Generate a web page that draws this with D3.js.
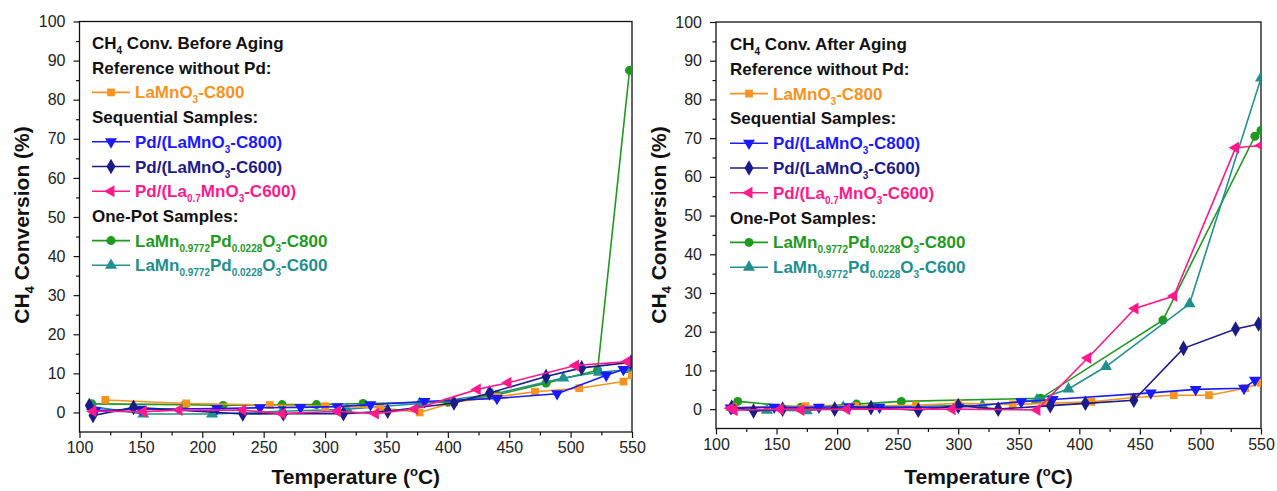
<!DOCTYPE html>
<html>
<head>
<meta charset="utf-8">
<script src="https://cdn.jsdelivr.net/npm/d3@7"></script>
<style>
  html, body { margin: 0; padding: 0; background: #ffffff; }
  svg { display: block; }
  text { font-family: Arial, "Liberation Sans", sans-serif; }
</style>
</head>
<body>
<svg id="chart" width="1277" height="491"></svg>
<script>
// ---------------- DATA ----------------
const xTickValues = [100, 150, 200, 250, 300, 350, 400, 450, 500, 550];
const yTickValues = [0, 10, 20, 30, 40, 50, 60, 70, 80, 90, 100];
const seriesNames = ["LaMnO3-C800", "Pd/(LaMnO3-C800)", "Pd/(LaMnO3-C600)", "Pd/(La0.7MnO3-C600)",
                     "LaMn0.9772Pd0.0228O3-C800", "LaMn0.9772Pd0.0228O3-C600"];
const panelTitles = ["Conv. Before Aging", "Conv. After Aging"];
const groupHeaders = ["Reference without Pd:", "Sequential Samples:", "One-Pot Samples:"];

// Before aging  [temperature °C, conversion %]
const before_LaMnO3_C800 = [[121,3.2],[187,2.3],[255,1.9],[300,1.6],[345,1.2],[377,0],[405,2.6],[440,4.0],[471,5.3],[507,6.2],[543,7.9],[550,9.5]];
const before_Pd_LaMnO3_C800 = [[113,0.5],[150,0.8],[212,1.0],[247,1.2],[280,1.3],[310,1.5],[337,2.0],[381,2.8],[440,3.6],[489,4.8],[529,9.5],[543,11]];
const before_Pd_LaMnO3_C600 = [[108,1.8],[111,-0.8],[144,1.3],[233,-0.4],[266,-0.3],[315,-0.3],[351,0.3],[405,2.4],[434,5.0],[480,9.2],[509,11.4],[549,12.8]];
const before_Pd_La07MnO3_C600 = [[111,0.3],[152,0.2],[181,0.6],[233,0.6],[265,-0.3],[310,0.3],[341,-0.3],[373,0.9],[424,5.9],[449,7.6],[504,12.0],[546,13.0]];
const before_OnePot_C800 = [[110,2.2],[186,2.0],[217,1.8],[265,2.0],[293,2.0],[331,2.3],[400,2.6],[440,4.5],[480,7.5],[522,10.8],[548,87.5]];
const before_OnePot_C600 = [[110,1.5],[152,-0.4],[208,-0.4],[265,0.3],[318,0.8],[377,2.3],[436,4.6],[494,8.8],[523,10.3],[548,11.0]];

// After aging  [temperature °C, conversion %]
const after_LaMnO3_C800 = [[114,0.5],[174,0.8],[215,0.8],[265,1.0],[300,1.5],[345,1.2],[372,1.5],[410,1.9],[445,3.0],[478,3.6],[507,3.6],[537,5.4],[550,6.8]];
const after_Pd_LaMnO3_C800 = [[112,0.3],[148,0.5],[185,0.5],[210,0.6],[235,0.5],[300,0.5],[352,1.9],[378,2.5],[459,4.2],[496,5.1],[536,5.4],[545,7.5]];
const after_Pd_LaMnO3_C600 = [[113,0.5],[131,-0.5],[155,0],[198,0],[228,0.4],[267,-0.3],[300,0.9],[333,0],[376,0.9],[405,1.5],[445,2.3],[486,15.7],[529,20.7],[548,22.0]];
const after_Pd_La07MnO3_C600 = [[112,0.2],[115,-0.3],[153,0],[170,-0.2],[208,0],[295,0],[365,-0.2],[407,13.2],[446,26.0],[478,29.2],[529,67.5],[550,68.1]];
const after_OnePot_C800 = [[118,2.0],[170,0.5],[216,1.3],[253,2.0],[368,2.8],[469,23.0],[545,70.5],[550,72.0]];
const after_OnePot_C600 = [[113,0.5],[142,-0.3],[175,-0.4],[205,0.5],[320,1.0],[365,2.4],[391,5.2],[422,11.0],[491,27.2],[550,85.5]];

// ---------------- STYLE ----------------
const colors = ["#f7931e", "#1a1aff", "#1b1b8a", "#ff1a8c", "#1f9a1f", "#1f8f8f"];
const rot = [0, 180, 0, -90, 0, 0];
const symbols = [d3.symbolSquare, d3.symbolTriangle, d3.symbolDiamond, d3.symbolTriangle, d3.symbolCircle, d3.symbolTriangle];
const symSizes = [60, 62, 70, 62, 64, 62];
const drawOrder = [4, 5, 0, 1, 2, 3];

const legendLabels = [
  [["LaMnO"],["3","sub"],["-C800"]],
  [["Pd/(LaMnO"],["3","sub"],["-C800)"]],
  [["Pd/(LaMnO"],["3","sub"],["-C600)"]],
  [["Pd/(La"],["0.7","sub"],["MnO"],["3","sub"],["-C600)"]],
  [["LaMn"],["0.9772","sub"],["Pd"],["0.0228","sub"],["O"],["3","sub"],["-C800"]],
  [["LaMn"],["0.9772","sub"],["Pd"],["0.0228","sub"],["O"],["3","sub"],["-C600"]]
];

const panels = [
  { x0: 79.5, x1: 632, yTop: 21.5, yBot: 432, legX: 92, legY0: 43, legDy: 24.7, yTitleX: 28.5,
    title: panelTitles[0],
    series: [before_LaMnO3_C800, before_Pd_LaMnO3_C800, before_Pd_LaMnO3_C600, before_Pd_La07MnO3_C600, before_OnePot_C800, before_OnePot_C600] },
  { x0: 716, x1: 1261, yTop: 22, yBot: 428.5, legX: 730, legY0: 44, legDy: 24.8, yTitleX: 666,
    title: panelTitles[1],
    series: [after_LaMnO3_C800, after_Pd_LaMnO3_C800, after_Pd_LaMnO3_C600, after_Pd_La07MnO3_C600, after_OnePot_C800, after_OnePot_C600] }
];

const svg = d3.select("#chart");
svg.append("rect").attr("width", 1277).attr("height", 491).attr("fill", "#ffffff");

function addRich(textSel, parts, baseSize, subSize) {
  let shifted = false;
  parts.forEach(p => {
    const ts = textSel.append("tspan").text(p[0]);
    if (p[1] === "sub") {
      ts.attr("font-size", subSize).attr("dy", shifted ? 0 : 5);
      shifted = true;
    } else {
      ts.attr("font-size", baseSize);
      if (shifted) { ts.attr("dy", -5); shifted = false; }
    }
  });
}

panels.forEach((P, pi) => {
  const x = d3.scaleLinear().domain([100, 550]).range([P.x0, P.x1]);
  const y = d3.scaleLinear().domain([-5, 100]).range([P.yBot, P.yTop]);
  const g = svg.append("g");

  // clip
  const clipId = "clip" + pi;
  svg.append("clipPath").attr("id", clipId).append("rect")
    .attr("x", P.x0).attr("y", P.yTop).attr("width", P.x1 - P.x0).attr("height", P.yBot - P.yTop);

  // X axis majors
  const xAx = g.append("g").attr("transform", `translate(0,${P.yBot})`)
    .call(d3.axisBottom(x).tickValues(xTickValues).tickSize(6).tickSizeOuter(0).tickPadding(4).tickFormat(d3.format("d")));
  // X minors
  const xMin = g.append("g").attr("transform", `translate(0,${P.yBot})`)
    .call(d3.axisBottom(x).tickValues(d3.range(125, 550, 50)).tickSize(3.5).tickSizeOuter(0).tickFormat(""));
  // Y axis majors
  const yAx = g.append("g").attr("transform", `translate(${P.x0},0)`)
    .call(d3.axisLeft(y).tickValues(yTickValues).tickSize(6).tickSizeOuter(0).tickPadding(8).tickFormat(d3.format("d")));
  const yMin = g.append("g").attr("transform", `translate(${P.x0},0)`)
    .call(d3.axisLeft(y).tickValues(d3.range(5, 100, 10)).tickSize(3.5).tickSizeOuter(0).tickFormat(""));

  [xAx, xMin, yAx, yMin].forEach(a => {
    a.select(".domain").remove();
    a.selectAll(".tick line").attr("stroke", "#111").attr("stroke-width", 1.2);
    a.selectAll(".tick text").attr("fill", "#222").attr("font-size", 16)
      .attr("font-family", "Arial, 'Liberation Sans', sans-serif");
  });

  // frame
  g.append("rect").attr("x", P.x0).attr("y", P.yTop)
    .attr("width", P.x1 - P.x0).attr("height", P.yBot - P.yTop)
    .attr("fill", "none").attr("stroke", "#111").attr("stroke-width", 1.3);

  // series
  const line = d3.line().x(d => x(d[0])).y(d => y(d[1]));
  const dataG = g.append("g").attr("clip-path", `url(#${clipId})`);
  drawOrder.forEach(si => {
    const data = P.series[si];
    dataG.append("path").datum(data).attr("d", line)
      .attr("fill", "none").attr("stroke", colors[si]).attr("stroke-width", 1.6);
    const sym = d3.symbol().type(symbols[si]).size(symSizes[si]);
    dataG.selectAll(null).data(data).enter().append("path")
      .attr("d", sym)
      .attr("transform", d => `translate(${x(d[0])},${y(d[1])}) rotate(${rot[si]})`)
      .attr("fill", colors[si]);
  });

  // axis titles
  const xt = g.append("text").attr("x", (P.x0 + P.x1) / 2).attr("y", 484)
    .attr("text-anchor", "middle").attr("font-weight", "bold").attr("font-size", 21).attr("fill", "#111");
  xt.append("tspan").text("Temperature (");
  xt.append("tspan").text("o").attr("font-size", 13).attr("dy", -8);
  xt.append("tspan").text("C)").attr("dy", 8);

  const yt = g.append("text")
    .attr("transform", `translate(${P.yTitleX},${225}) rotate(-90)`)
    .attr("text-anchor", "middle").attr("font-weight", "bold").attr("font-size", 21).attr("fill", "#111");
  yt.append("tspan").text("CH");
  yt.append("tspan").text("4").attr("font-size", 13).attr("dy", 5);
  yt.append("tspan").text(" Conversion (%)").attr("dy", -5);

  // legend
  const leg = g.append("g");
  const rowY = i => P.legY0 + P.legDy * i;
  // title row
  const tt = leg.append("text").attr("x", P.legX).attr("y", rowY(0) + 6)
    .attr("font-weight", "bold").attr("fill", "#111");
  addRich(tt, [["CH"], ["4", "sub"], [" " + P.title]], 17, 10);

  const rows = [
    { type: "h", i: 0 }, { type: "s", i: 0 },
    { type: "h", i: 1 }, { type: "s", i: 1 }, { type: "s", i: 2 }, { type: "s", i: 3 },
    { type: "h", i: 2 }, { type: "s", i: 4 }, { type: "s", i: 5 }
  ];
  rows.forEach((r, k) => {
    const cy = rowY(k + 1);
    if (r.type === "h") {
      leg.append("text").attr("x", P.legX).attr("y", cy + 6)
        .attr("font-weight", "bold").attr("font-size", 17).attr("fill", "#111").text(groupHeaders[r.i]);
    } else {
      const si = r.i;
      leg.append("line").attr("x1", P.legX).attr("x2", P.legX + 38).attr("y1", cy).attr("y2", cy)
        .attr("stroke", colors[si]).attr("stroke-width", 1.6);
      leg.append("path").attr("d", d3.symbol().type(symbols[si]).size(symSizes[si])())
        .attr("transform", `translate(${P.legX + 19},${cy}) rotate(${rot[si]})`)
        .attr("fill", colors[si]);
      const t = leg.append("text").attr("x", P.legX + 43).attr("y", cy + 6)
        .attr("font-weight", "bold").attr("fill", colors[si]);
      addRich(t, legendLabels[si], 17, 10);
    }
  });
});
</script>
</body>
</html>
